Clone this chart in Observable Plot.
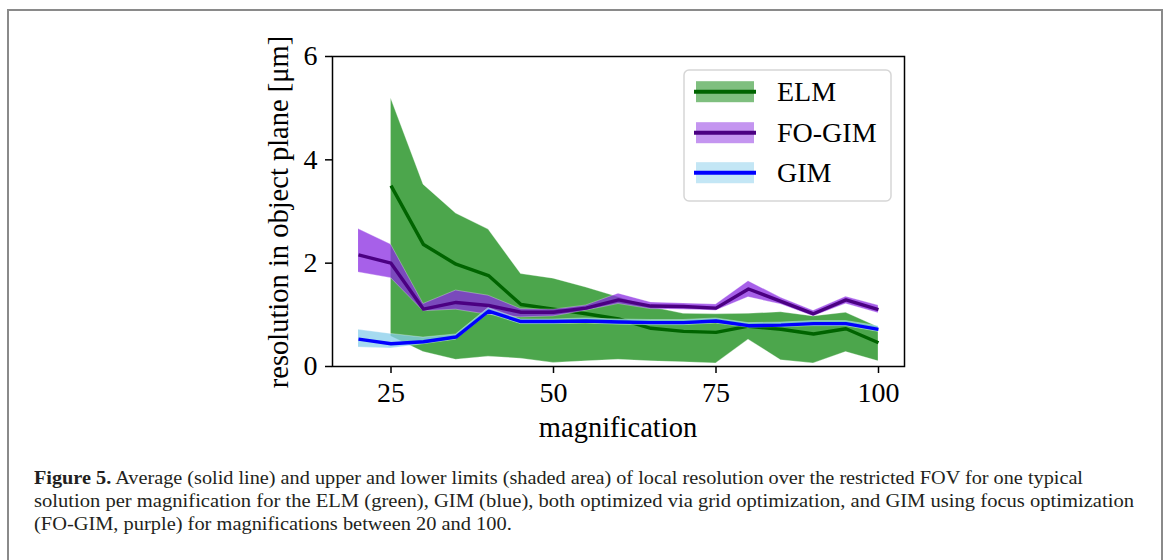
<!DOCTYPE html>
<html><head><meta charset="utf-8">
<script src="https://cdn.jsdelivr.net/npm/d3@7"></script>
<script src="https://cdn.jsdelivr.net/npm/@observablehq/plot@0.6"></script>
<style>
html,body{margin:0;padding:0;background:#fff;}
#wrap{position:relative;width:1170px;height:560px;overflow:hidden;background:#fff;}
#border{position:absolute;left:7px;top:9px;width:1156px;height:600px;border:2px solid #8a8a8a;box-sizing:border-box;}
#chart{position:absolute;left:0;top:0;}
#caption{position:absolute;left:34px;top:467px;font-family:"Liberation Serif","Times New Roman",Tinos,Times,serif;font-size:18px;line-height:23px;color:#231f20;}
#caption div{white-space:nowrap;}
#caption span.ln{display:inline-block;white-space:nowrap;transform-origin:0 0;}
</style></head><body>
<div id="wrap"><div id="border"></div><div id="chart"></div><div id="caption"></div></div>
<script>
// ---- data ----
const magnification = [20, 25, 30, 35, 40, 45, 50, 55, 60, 65, 70, 75, 80, 85, 90, 95, 100];

const elmMean  = [null, 3.50, 2.36, 1.98, 1.76, 1.20, 1.11, 1.02, 0.92, 0.74, 0.68, 0.66, 0.78, 0.72, 0.63, 0.73, 0.46];
const elmUpper = [null, 5.19, 3.52, 2.96, 2.65, 1.79, 1.70, 1.53, 1.34, 1.15, 1.02, 1.01, 1.02, 1.05, 0.97, 1.04, 0.76];
const elmLower = [null, 0.58, 0.28, 0.13, 0.19, 0.15, 0.07, 0.10, 0.13, 0.10, 0.08, 0.06, 0.52, 0.12, 0.06, 0.28, 0.10];

const foMean  = [2.16, 2.00, 1.11, 1.24, 1.18, 1.05, 1.05, 1.13, 1.29, 1.17, 1.16, 1.13, 1.50, 1.26, 1.02, 1.29, 1.10];
const foUpper = [2.66, 2.36, 1.21, 1.47, 1.37, 1.11, 1.10, 1.18, 1.41, 1.24, 1.22, 1.20, 1.65, 1.33, 1.08, 1.35, 1.18];
const foLower = [1.82, 1.71, 1.07, 1.10, 1.00, 0.95, 0.97, 1.08, 1.21, 1.11, 1.10, 1.08, 1.34, 1.20, 0.97, 1.21, 1.03];

const gimMean  = [0.53, 0.44, 0.48, 0.57, 1.07, 0.87, 0.87, 0.88, 0.86, 0.85, 0.85, 0.88, 0.79, 0.80, 0.83, 0.83, 0.72];
const gimUpper = [0.71, 0.63, 0.56, 0.62, 1.13, 0.91, 0.91, 0.93, 0.91, 0.90, 0.90, 0.93, 0.84, 0.85, 0.88, 0.88, 0.78];
const gimLower = [0.37, 0.35, 0.43, 0.52, 1.02, 0.82, 0.82, 0.83, 0.81, 0.80, 0.80, 0.83, 0.75, 0.76, 0.78, 0.78, 0.67];

const seriesNames = ["ELM", "FO-GIM", "GIM"];
const xTicks = [25, 50, 75, 100];
const yTicks = [0, 2, 4, 6];
const xLabel = "magnification";
const yLabel = "resolution in object plane [μm]";
const captionBold = "Figure 5.";
const captionLines = [
  " Average (solid line) and upper and lower limits (shaded area) of local resolution over the restricted FOV for one typical",
  "solution per magnification for the ELM (green), GIM (blue), both optimized via grid optimization, and GIM using focus optimization",
  "(FO-GIM, purple) for magnifications between 20 and 100."
];
const captionRightEdges = [1083, 1134, null];

// ---- styles ----
const FONT = "Liberation Serif, Times New Roman, Tinos, Times, serif";
const styles = {
  "ELM":    {fill: "#008000", line: "#006400"},
  "FO-GIM": {fill: "#8a2be2", line: "#4b0082"},
  "GIM":    {fill: "#87ceeb", line: "#0000ff"}
};

function rows(name, lo, mean, hi) {
  return magnification.map((m, i) => ({m, lo: lo[i], mean: mean[i], hi: hi[i], name}))
    .filter(d => d.mean != null);
}
const elm = rows("ELM", elmLower, elmMean, elmUpper);
const fo = rows("FO-GIM", foLower, foMean, foUpper);
const gim = rows("GIM", gimLower, gimMean, gimUpper);

function bandMarks(data, name, op) {
  const s = styles[name];
  return [
    Plot.areaY(data, {x: "m", y1: "lo", y2: "hi", fill: s.fill, fillOpacity: op,
      stroke: "#ffffff", strokeOpacity: 0.3, strokeWidth: 1}),
    Plot.lineY(data, {x: "m", y: "mean", stroke: s.line, strokeWidth: 3.4,
      strokeLinejoin: "round", strokeLinecap: "butt"})
  ];
}

const svg = Plot.plot({
  width: 1170, height: 460,
  marginLeft: 332, marginRight: 266, marginTop: 56, marginBottom: 94,
  x: {domain: [16, 104]},
  y: {domain: [0, 6]},
  style: {fontFamily: FONT, fontSize: "28px", color: "#000", background: "transparent", overflow: "visible"},
  marks: [
    ...bandMarks(elm, "ELM", 0.7),
    ...bandMarks(fo, "FO-GIM", 0.75),
    ...bandMarks(gim, "GIM", 0.75),
    Plot.frame({stroke: "#000", strokeWidth: 1.5}),
    Plot.axisX({ticks: xTicks, tickSize: 7, tickPadding: 9, label: null, strokeWidth: 1.5, fontSize: 28, tickFormat: d => String(d)}),
    Plot.axisY({ticks: yTicks, tickSize: 7, tickPadding: 8, label: null, strokeWidth: 1.5, fontSize: 28, tickFormat: d => String(d)})
  ]
});
document.getElementById("chart").appendChild(svg);

// axis labels
const g = d3.select(svg).append("g").attr("font-family", FONT).attr("fill", "#000");
g.append("text").attr("transform", "translate(288,212) rotate(-90)").attr("text-anchor", "middle")
  .attr("font-size", 28.5).text(yLabel);
g.append("text").attr("x", 618).attr("y", 437).attr("text-anchor", "middle")
  .attr("font-size", 28.5).text(xLabel);

// legend
const lg = g.append("g");
lg.append("rect").attr("x", 684).attr("y", 70).attr("width", 207).attr("height", 131).attr("rx", 5)
  .attr("fill", "#fff").attr("fill-opacity", 0.9).attr("stroke", "#d6d6d6").attr("stroke-width", 1.5);
const rowY = [91.7, 132.7, 172.7];
seriesNames.forEach((name, i) => {
  const cy = rowY[i], s = styles[name];
  lg.append("rect").attr("x", 696).attr("y", cy - 10.5).attr("width", 58).attr("height", 21)
    .attr("fill", s.fill).attr("fill-opacity", 0.5);
  lg.append("line").attr("x1", 694).attr("x2", 756).attr("y1", cy).attr("y2", cy)
    .attr("stroke", s.line).attr("stroke-width", 4);
  lg.append("text").attr("x", 777).attr("y", cy + 9.5).attr("text-anchor", "start")
    .attr("font-size", 28).text(name);
});

// caption
const cap = document.getElementById("caption");
const spans = captionLines.map((t, i) => {
  const div = document.createElement("div");
  const sp = document.createElement("span");
  sp.className = "ln";
  if (i === 0) {
    const b = document.createElement("b"); b.textContent = captionBold; sp.appendChild(b);
  }
  sp.appendChild(document.createTextNode(t));
  div.appendChild(sp);
  cap.appendChild(div);
  return sp;
});
const ks = spans.map((sp, i) => captionRightEdges[i] ? (captionRightEdges[i] - 34) / sp.getBoundingClientRect().width : null);
const kAvg = (ks[0] + ks[1]) / 2;
spans.forEach((sp, i) => { sp.style.transform = `scaleX(${ks[i] || kAvg})`; });
</script>
</body></html>
